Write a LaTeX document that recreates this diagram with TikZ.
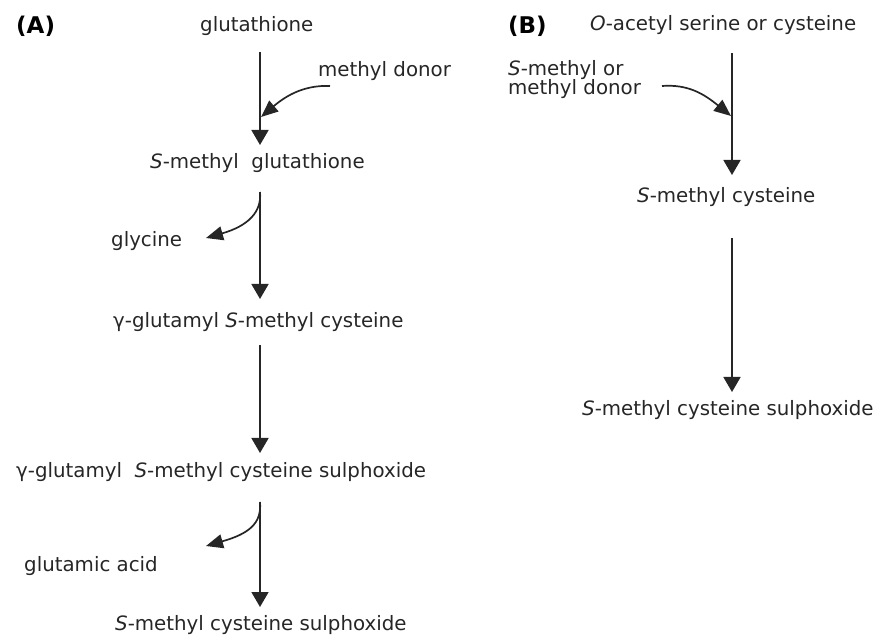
\documentclass[tikz,border=0pt]{standalone}
\usepackage{fontspec}
\setmainfont{DejaVu Sans}
\usetikzlibrary{arrows.meta}
\tikzset{
  lbl/.style={inner sep=0pt, anchor=base west, font=\fontsize{19.8}{23}\selectfont, text=black!85},
  tag/.style={inner sep=0pt, anchor=base west, font=\fontsize{23}{26}\selectfont\bfseries},
  arr/.style={line width=1.7pt, draw=black!85, -{Triangle[width=17pt,length=15pt]}},
  carr/.style={line width=1.7pt, draw=black!85, -{Triangle[width=14pt,length=17pt]}}
}
\begin{document}
\begin{tikzpicture}[x=1pt,y=-1pt]
\useasboundingbox (0,0) rectangle (879,636);
% labels
\node[tag] (tA) at (16,34) {(A)};
\node[tag] (tB) at (508,34) {(B)};
% column A
\node[lbl] (glu) at (200,32) {glutathione};
\node[lbl] (md) at (318,77) {methyl donor};
\node[lbl] (smg) at (150,169) {\textit{S}-methyl\ \ glutathione};
\node[lbl] (gly) at (111,247) {glycine};
\node[lbl] (ggsmc) at (113,328) {γ-glutamyl \textit{S}-methyl cysteine};
\node[lbl] (ggsmcs) at (16,478) {γ-glutamyl\ \ \textit{S}-methyl cysteine sulphoxide};
\node[lbl] (ga) at (24,571) {glutamic acid};
\node[lbl] (smcsA) at (115,630) {\textit{S}-methyl cysteine sulphoxide};
% column B
\node[lbl] (oas) at (590,31) {\textit{O}-acetyl serine or cysteine};
\node[lbl] (smd) at (508,76) {\textit{S}-methyl or};
\node[lbl] (smd2) at (508,95) {methyl donor};
\node[lbl] (smc) at (637,203) {\textit{S}-methyl cysteine};
\node[lbl] (smcsB) at (582,416) {\textit{S}-methyl cysteine sulphoxide};
% connector end points
\coordinate (a1s) at (260,52);  \coordinate (a1e) at (260,145);
\coordinate (a2s) at (260,192); \coordinate (a2e) at (260,299);
\coordinate (a3s) at (260,345); \coordinate (a3e) at (260,453);
\coordinate (a4s) at (260,502); \coordinate (a4e) at (260,607);
\coordinate (b1s) at (732,53);  \coordinate (b1e) at (732,175);
\coordinate (b2s) at (732,238); \coordinate (b2e) at (732,392);
\coordinate (mds) at (330,86);  \coordinate (mde) at (261,117);
\coordinate (glyt) at (206,238);
\coordinate (gat) at (206,546);
\coordinate (smds) at (662,86); \coordinate (smde) at (731,116);
% main arrows
\draw[arr] (a1s) -- (a1e);
\draw[arr] (a2s) -- (a2e);
\draw[arr] (a3s) -- (a3e);
\draw[arr] (a4s) -- (a4e);
\draw[arr] (b1s) -- (b1e);
\draw[arr] (b2s) -- (b2e);
% side arrows
\draw[carr] (mds) .. controls (306,85) and (288,94) .. (mde);
\draw[carr] (a2s) .. controls (262,212) and (248,226) .. (glyt);
\draw[carr] (a4s) .. controls (262,524) and (248,534) .. (gat);
\draw[carr] (smds) .. controls (688,84) and (704,94) .. (smde);
\end{tikzpicture}
\end{document}
